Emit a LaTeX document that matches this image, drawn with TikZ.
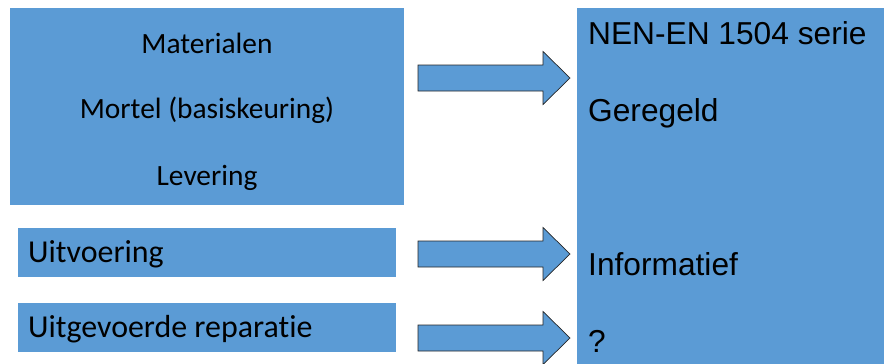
\documentclass[tikz,border=0pt]{standalone}
\usepackage{fontspec}
\setmainfont[Ligatures={NoCommon}]{Carlito}
\newfontfamily\arialf{Liberation Sans}
\definecolor{boxblue}{HTML}{5B9BD5}
\begin{document}
\begin{tikzpicture}[x=1pt,y=-1pt,
  box/.style={fill=boxblue, draw=none, inner sep=0pt, outer sep=0pt},
  lefttxt/.style={anchor=base, inner sep=0pt, font=\fontsize{29.4}{35}\selectfont},
  rowtxt/.style={anchor=base west, inner sep=0pt, font=\fontsize{31.9}{38}\selectfont},
  righttxt/.style={anchor=base west, inner sep=0pt, font=\arialf\fontsize{31.7}{38}\selectfont},
  blockarrow/.style={fill=boxblue, draw=black!85, line width=0.7pt, line join=miter}]
\useasboundingbox (0,0) rectangle (884,364);
% boxes
\node[box, minimum width=394pt, minimum height=197pt, anchor=north west] (top) at (10,8) {};
\node[box, minimum width=378pt, minimum height=49pt, anchor=north west] (uitv) at (18,228) {};
\node[box, minimum width=378pt, minimum height=49pt, anchor=north west] (uitg) at (18,303) {};
\node[box, minimum width=310pt, minimum height=360pt, anchor=north west] (norm) at (577,8) {};
% left texts
\node[lefttxt] (mat) at (207,53) {Materialen};
\node[lefttxt] (mor) at (207,118) {Mortel (basiskeuring)};
\node[lefttxt] (lev) at (207,185) {Levering};
\node[rowtxt] (tuitv) at (28,262) {Uitvoering};
\node[rowtxt] (tuitg) at (28,337) {Uitgevoerde reparatie};
% right texts
\node[righttxt] (nen) at (588,44) {NEN-EN 1504 serie};
\node[righttxt] (ger) at (588,121) {Geregeld};
\node[righttxt] (inf) at (588,275) {Informatief};
\node[righttxt] (qq) at (588,352) {?};
% block arrows
\coordinate (a1s) at (418,78);  \coordinate (a1t) at (570,78);
\coordinate (a2s) at (418,254); \coordinate (a2t) at (570,254);
\coordinate (a3s) at (418,338); \coordinate (a3t) at (570,338);
\foreach \s/\t in {a1s/a1t,a2s/a2t,a3s/a3t}{
  \draw[blockarrow] (\s) ++(0,-13) -- ++(125,0) -- ++(0,-13.5) -- (\t)
    -- ++(-27,26.5) -- ++(0,-13.5) -- ++(-125,0) -- cycle;
}
\end{tikzpicture}
\end{document}
